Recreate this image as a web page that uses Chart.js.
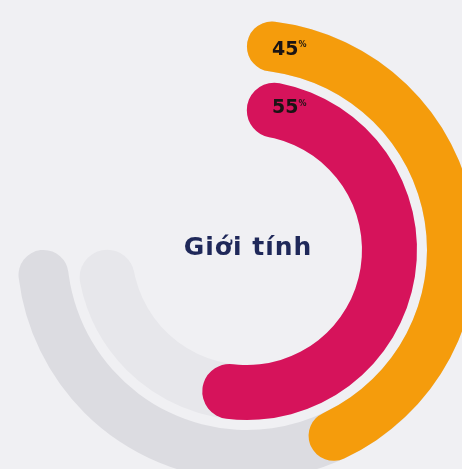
<!DOCTYPE html>
<html>
<head>
    <title>Giới tính</title>
    <style>
        body {
            margin: 0;
            width: 462px;
            height: 469px;
            overflow: hidden;
            background: #f0f0f3;
            font-family: "DejaVu Sans", Arial, sans-serif;
            position: relative;
        }

        canvas {
            position: absolute;
            left: 17px;
            top: 20px;
        }
    </style>
</head>
<body>
    <canvas id="trackChart" width="460" height="460"></canvas>
    <canvas id="genderChart" width="460" height="460"></canvas>

    <script src="https://cdn.jsdelivr.net/npm/chart.js"></script>
    <script>
        // data
        var centerTitle = 'Giới tính';
        var groups = ['45%', '55%'];
        var values = [45, 55];          // percent of a full circle
        var trackPercent = 75;          // grey track runs 3/4 of the way round

        var ringColors = ['#f59c0c', '#d6135b'];
        var trackColors = ['#dcdce1', '#e7e7eb'];
        var ringWeights = [50, 55];
        var gapWeight = 10;

        function ringSet(data, colors, weight) {
            return {
                data: data,
                backgroundColor: colors,
                borderWidth: 0,
                borderRadius: function (ctx) {
                    return ctx.dataIndex === 0 ? 40 : 0;
                },
                weight: weight
            };
        }

        var spacer = { data: [1], backgroundColor: ['rgba(0,0,0,0)'], borderWidth: 0, weight: gapWeight };

        var baseOptions = {
            responsive: false,
            animation: false,
            cutout: '50%',
            rotation: 0,
            circumference: 360,
            events: [],
            layout: { padding: 0 },
            plugins: {
                legend: { display: false },
                tooltip: { enabled: false }
            }
        };

        // grey tracks underneath
        new Chart(document.getElementById('trackChart'), {
            type: 'doughnut',
            data: {
                labels: ['track', 'rest'],
                datasets: [
                    ringSet([trackPercent, 100 - trackPercent], [trackColors[0], 'rgba(0,0,0,0)'], ringWeights[0]),
                    spacer,
                    ringSet([trackPercent, 100 - trackPercent], [trackColors[1], 'rgba(0,0,0,0)'], ringWeights[1])
                ]
            },
            options: baseOptions
        });

        // percentage labels at the start of each ring + title in the middle
        var labelPlugin = {
            id: 'ringLabels',
            afterDatasetsDraw: function (chart) {
                var c = chart.ctx;
                var ringIdx = [0, 2];
                c.save();
                ringIdx.forEach(function (di, i) {
                    var arc = chart.getDatasetMeta(di).data[0];
                    var r = (arc.innerRadius + arc.outerRadius) / 2;
                    var x = arc.x + 25;
                    var y = arc.y - r + (i === 0 ? 5 : 1);
                    var num = groups[i].replace('%', '');
                    c.fillStyle = '#1a1414';
                    c.textBaseline = 'middle';
                    c.textAlign = 'left';
                    c.font = 'bold 19px "DejaVu Sans"';
                    c.fillText(num, x, y);
                    var w = c.measureText(num).width;
                    c.font = 'bold 8px "DejaVu Sans"';
                    c.fillText('%', x + w, y - 5);
                });

                var m = chart.getDatasetMeta(0).data[0];
                c.fillStyle = '#1f2859';
                c.textAlign = 'center';
                c.textBaseline = 'alphabetic';
                c.font = 'bold 25px "DejaVu Sans"';
                c.letterSpacing = '1px';
                c.fillText(centerTitle, m.x + 1, m.y + 5);
                c.restore();
            }
        };

        new Chart(document.getElementById('genderChart'), {
            type: 'doughnut',
            data: {
                labels: groups,
                datasets: [
                    ringSet([values[0], 100 - values[0]], [ringColors[0], 'rgba(0,0,0,0)'], ringWeights[0]),
                    spacer,
                    ringSet([values[1], 100 - values[1]], [ringColors[1], 'rgba(0,0,0,0)'], ringWeights[1])
                ]
            },
            options: baseOptions,
            plugins: [labelPlugin]
        });
    </script>
</body>
</html>
